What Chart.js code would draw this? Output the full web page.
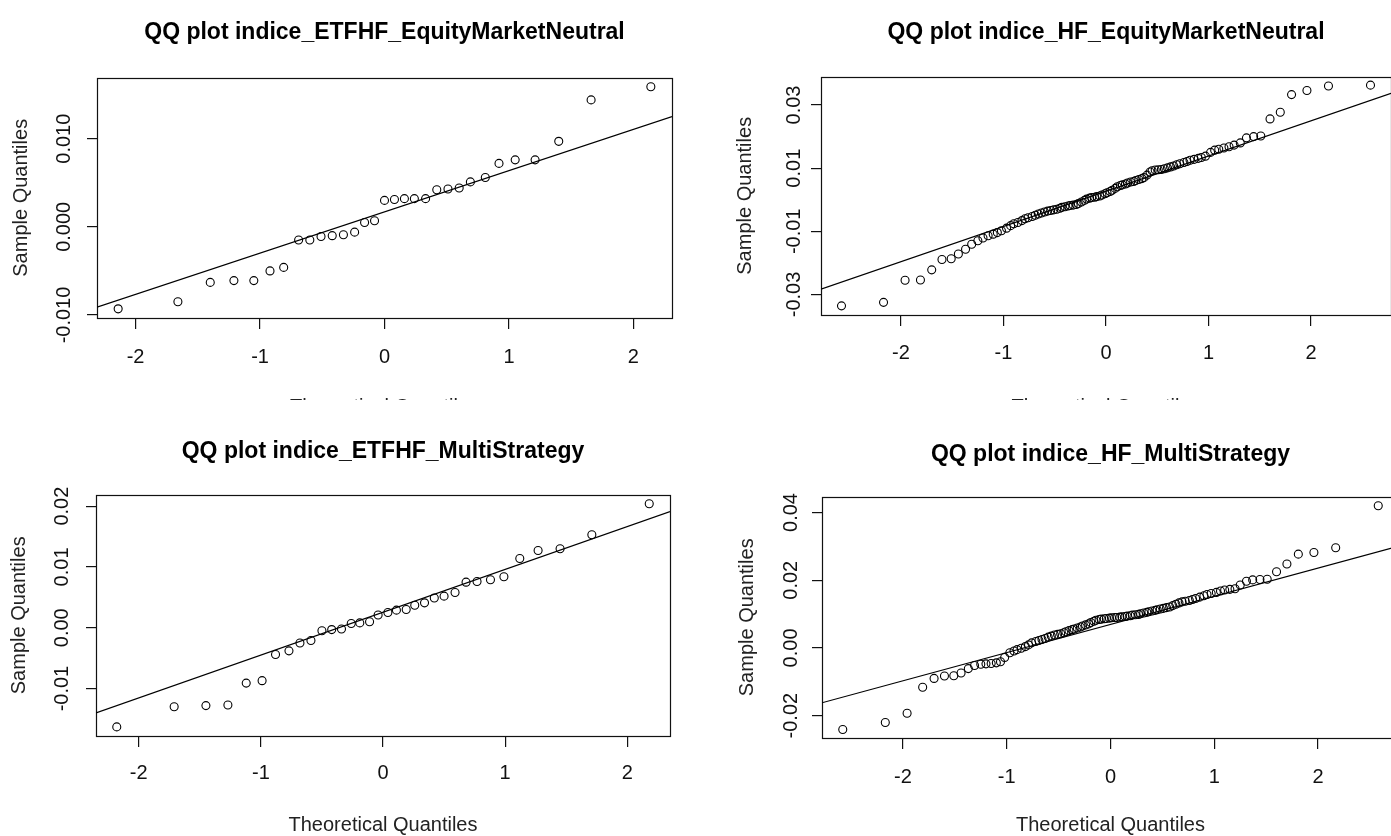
<!DOCTYPE html>
<html>
<head>
<meta charset="utf-8">
<title>QQ plots</title>
<script src="https://cdn.jsdelivr.net/npm/chart.js@4.4.1/dist/chart.umd.min.js"></script>
<style>
  html, body { margin: 0; padding: 0; background: #fff; }
  #page { position: relative; width: 1391px; height: 836px; overflow: hidden; background: #fff; }
  .cell { position: absolute; overflow: hidden; }
  canvas { display: block; }
</style>
</head>
<body>
<div id="page">
  <div class="cell" style="left:0;top:0;width:769px;height:400px"><canvas id="etfEmn" width="769" height="440"></canvas></div>
  <div class="cell" style="left:700px;top:0;width:691px;height:400px"><canvas id="hfEmn" width="812" height="440"></canvas></div>
  <div class="cell" style="left:0;top:400px;width:766px;height:436px"><canvas id="etfMulti" width="766" height="460"></canvas></div>
  <div class="cell" style="left:700px;top:400px;width:691px;height:436px"><canvas id="hfMulti" width="821" height="460"></canvas></div>
</div>
<script>
// ETFHF equity market neutral (31 obs)
const etfEmnTheo = [-2.14, -1.66, -1.40, -1.21, -1.05, -0.92, -0.81, -0.69, -0.60, -0.51, -0.42,
  -0.33, -0.24, -0.16, -0.08, 0.00, 0.08, 0.16, 0.24, 0.33, 0.42, 0.51, 0.60, 0.69, 0.81,
  0.92, 1.05, 1.21, 1.40, 1.66, 2.14];
const etfEmnSample = [-0.0093, -0.0085, -0.0063, -0.0061, -0.0061, -0.0050, -0.0046, -0.0015,
  -0.0015, -0.0011, -0.0010, -0.0009, -0.0006, 0.0005, 0.0007, 0.0030, 0.0031, 0.0032, 0.0032,
  0.0032, 0.0042, 0.0043, 0.0044, 0.0051, 0.0056, 0.0072, 0.0076, 0.0076, 0.0097, 0.0144, 0.0159];
const etfEmnLine = [[-2.31, -0.0091], [2.31, 0.0125]];
const etfEmnYLabels = ['-0.010', '0.000', '0.010'];

// ETFHF multi strategy (34 obs)
const etfMultiTheo = [-2.18, -1.71, -1.45, -1.27, -1.12, -0.99, -0.88, -0.77, -0.68, -0.59, -0.50,
  -0.42, -0.34, -0.26, -0.19, -0.11, -0.04, 0.04, 0.11, 0.19, 0.26, 0.34, 0.42, 0.50, 0.59,
  0.68, 0.77, 0.88, 0.99, 1.12, 1.27, 1.45, 1.71, 2.18];
const etfMultiSample = [-0.0163, -0.0130, -0.0128, -0.0127, -0.0091, -0.0087, -0.0044, -0.0038,
  -0.0025, -0.0021, -0.0005, -0.0003, -0.0002, 0.0007, 0.0008, 0.0010, 0.0021, 0.0025, 0.0029,
  0.0030, 0.0037, 0.0041, 0.0049, 0.0052, 0.0058, 0.0075, 0.0076, 0.0079, 0.0084, 0.0114,
  0.0127, 0.0130, 0.0153, 0.0204];
const etfMultiLine = [[-2.35, -0.0140], [2.35, 0.0191]];
const etfMultiYLabels = ['-0.01', '0.00', '0.01', '0.02'];

// HF indices share the same 100 theoretical quantiles
const hfTheo = [-2.58, -2.17, -1.96, -1.81, -1.70, -1.60, -1.51, -1.44, -1.37, -1.31,
  -1.25, -1.20, -1.15, -1.10, -1.06, -1.02, -0.97, -0.93, -0.90, -0.86,
  -0.82, -0.79, -0.76, -0.72, -0.69, -0.66, -0.63, -0.60, -0.57, -0.54,
  -0.51, -0.48, -0.45, -0.43, -0.40, -0.37, -0.35, -0.32, -0.29, -0.27,
  -0.24, -0.21, -0.19, -0.16, -0.14, -0.11, -0.09, -0.06, -0.04, -0.01,
  0.01, 0.04, 0.06, 0.09, 0.11, 0.14, 0.16, 0.19, 0.21, 0.24,
  0.27, 0.29, 0.32, 0.35, 0.37, 0.40, 0.43, 0.45, 0.48, 0.51,
  0.54, 0.57, 0.60, 0.63, 0.66, 0.69, 0.72, 0.76, 0.79, 0.82,
  0.86, 0.90, 0.93, 0.97, 1.02, 1.06, 1.10, 1.15, 1.20, 1.25,
  1.31, 1.37, 1.44, 1.51, 1.60, 1.70, 1.81, 1.96, 2.17, 2.58];

const hfEmnSample = [-0.0336, -0.0325, -0.0255, -0.0254, -0.0222, -0.0189, -0.0187, -0.0172, -0.0157, -0.0141,
  -0.0130, -0.0121, -0.0114, -0.0109, -0.0104, -0.0098, -0.0090, -0.0082, -0.0076, -0.0072,
  -0.0066, -0.0060, -0.0057, -0.0053, -0.0049, -0.0045, -0.0042, -0.0039, -0.0036, -0.0034,
  -0.0032, -0.0030, -0.0027, -0.0024, -0.0022, -0.0020, -0.0018, -0.0017, -0.0015, -0.0012,
  -0.0007, -0.0002, 0.0002, 0.0005, 0.0007, 0.0008, 0.0010, 0.0012, 0.0015, 0.0019,
  0.0022, 0.0026, 0.0030, 0.0036, 0.0041, 0.0045, 0.0047, 0.0050, 0.0053, 0.0056,
  0.0058, 0.0061, 0.0064, 0.0067, 0.0070, 0.0078, 0.0088, 0.0092, 0.0094, 0.0095,
  0.0096, 0.0098, 0.0101, 0.0104, 0.0107, 0.0111, 0.0114, 0.0118, 0.0121, 0.0125,
  0.0128, 0.0131, 0.0134, 0.0138, 0.0150, 0.0157, 0.0160, 0.0164, 0.0168, 0.0173,
  0.0180, 0.0196, 0.0200, 0.0202, 0.0256, 0.0277, 0.0333, 0.0346, 0.0360, 0.0363];
const hfEmnLine = [[-2.78, -0.0283], [2.78, 0.0337]];
const hfEmnYLabels = ['-0.03', '-0.01', '0.01', '0.03'];

const hfMultiSample = [-0.0241, -0.0220, -0.0193, -0.0116, -0.0090, -0.0083, -0.0082, -0.0074, -0.0061, -0.0052,
  -0.0048, -0.0047, -0.0046, -0.0044, -0.0041, -0.0028, -0.0014, -0.0009, -0.0005, -0.0001,
  0.0004, 0.0009, 0.0015, 0.0019, 0.0022, 0.0025, 0.0028, 0.0032, 0.0035, 0.0038,
  0.0040, 0.0042, 0.0045, 0.0048, 0.0051, 0.0054, 0.0056, 0.0059, 0.0062, 0.0065,
  0.0068, 0.0071, 0.0075, 0.0079, 0.0082, 0.0084, 0.0085, 0.0086, 0.0087, 0.0088,
  0.0089, 0.0090, 0.0090, 0.0091, 0.0092, 0.0093, 0.0094, 0.0095, 0.0097, 0.0098,
  0.0099, 0.0101, 0.0103, 0.0105, 0.0107, 0.0109, 0.0111, 0.0113, 0.0115, 0.0117,
  0.0119, 0.0121, 0.0125, 0.0129, 0.0133, 0.0136, 0.0138, 0.0140, 0.0143, 0.0146,
  0.0150, 0.0154, 0.0158, 0.0161, 0.0164, 0.0168, 0.0171, 0.0173, 0.0175, 0.0186,
  0.0197, 0.0201, 0.0202, 0.0203, 0.0225, 0.0248, 0.0277, 0.0282, 0.0296, 0.0420];
const hfMultiLine = [[-2.78, -0.0162], [2.78, 0.0301]];
const hfMultiYLabels = ['-0.02', '0.00', '0.02', '0.04'];

const xLabels = ['-2', '-1', '0', '1', '2'];

const FONT = '"Liberation Sans", Arial, sans-serif';
const TICK_SIZE = 20;
const INK = '#111';

// box around the plotting region, like R's box()
const boxPlugin = {
  id: 'box',
  beforeDatasetsDraw(chart) {
    const {ctx, chartArea: a} = chart;
    ctx.save();
    ctx.strokeStyle = INK;
    ctx.lineWidth = 1.2;
    ctx.strokeRect(Math.round(a.left) + 0.5, Math.round(a.top) + 0.5,
      Math.round(a.right - a.left), Math.round(a.bottom - a.top));
    ctx.restore();
  }
};

function widest(labels) {
  const ctx = document.createElement('canvas').getContext('2d');
  ctx.font = TICK_SIZE + 'px ' + FONT;
  return Math.max(...labels.map(l => ctx.measureText(l).width));
}

function qqPlot(p) {
  // rotated y labels are centred at labelGap px left of the axis
  const yPad = p.labelGap - 10 - widest(p.yLabels) / 2;

  return new Chart(document.getElementById(p.id), {
    type: 'scatter',
    data: {
      datasets: [
        {
          data: p.theo.map((x, i) => ({x: x, y: p.sample[i]})),
          xAxisID: 'x', yAxisID: 'y',
          pointStyle: 'circle', pointRadius: 4, borderWidth: 1.1,
          borderColor: '#000', backgroundColor: 'rgba(0,0,0,0)'
        },
        {
          data: p.line.map(d => ({x: d[0], y: d[1]})),
          xAxisID: 'x', yAxisID: 'y',
          showLine: true, pointRadius: 0, borderWidth: 1.2, borderColor: '#000'
        }
      ]
    },
    options: {
      responsive: false,
      animation: false,
      events: [],
      layout: { padding: 0 },
      plugins: {
        legend: { display: false },
        tooltip: { enabled: false },
        title: {
          display: true, text: p.title, color: '#000',
          font: { family: FONT, size: 23, weight: 'bold' },
          padding: { top: p.titleTop, bottom: p.titleBottom }
        }
      },
      scales: {
        x: {
          type: 'linear', position: 'bottom', min: -p.xMax, max: p.xMax,
          afterFit: s => { s.height = p.xAxisH; },
          border: { display: false },
          grid: { drawOnChartArea: false, drawTicks: true, tickLength: 11, color: INK, lineWidth: 1.2 },
          ticks: {
            stepSize: 1, includeBounds: false, padding: p.xTickPad, maxRotation: 0,
            color: INK, font: { family: FONT, size: TICK_SIZE },
            callback: v => xLabels.includes(String(v)) ? String(v) : ''
          },
          title: {
            display: true, text: 'Theoretical Quantiles', color: '#222',
            font: { family: FONT, size: TICK_SIZE }, padding: { top: 0, bottom: p.xTitleBottom }
          }
        },
        y: {
          type: 'linear', position: 'left', min: p.yMin, max: p.yMax,
          afterFit: s => { s.width = p.yAxisW; },
          border: { display: false },
          grid: { drawOnChartArea: false, drawTicks: true, tickLength: 10, color: INK, lineWidth: 1.2 },
          ticks: {
            stepSize: p.yStep, includeBounds: false, minRotation: 90, maxRotation: 90,
            crossAlign: 'center', padding: yPad,
            color: INK, font: { family: FONT, size: TICK_SIZE },
            callback: v => {
              const s = (Math.abs(v) < 1e-12 ? 0 : v).toFixed(p.yDecimals);
              return p.yLabels.includes(s) ? s : '';
            }
          },
          title: {
            display: true, text: 'Sample Quantiles', color: '#222',
            font: { family: FONT, size: TICK_SIZE }, padding: { top: p.yTitleOff - 12, bottom: 0 }
          }
        },
        // empty right-hand axis keeps the title centred over the box
        pad: {
          type: 'linear', position: 'right', display: true,
          afterFit: s => { s.width = p.yAxisW; },
          grid: { display: false }, border: { display: false }, ticks: { display: false }
        }
      }
    },
    plugins: [boxPlugin]
  });
}

qqPlot({
  id: 'etfEmn', title: 'QQ plot indice_ETFHF_EquityMarketNeutral',
  theo: etfEmnTheo, sample: etfEmnSample, line: etfEmnLine,
  yLabels: etfEmnYLabels, yDecimals: 3, yStep: 0.005,
  xMax: 2.31, yMin: -0.01034, yMax: 0.01693,
  yAxisW: 97, xAxisH: 122, titleTop: 19, titleBottom: 31,
  xTickPad: 16, labelGap: 32.5, yTitleOff: 21.5, xTitleBottom: 21
});

qqPlot({
  id: 'hfEmn', title: 'QQ plot indice_HF_EquityMarketNeutral',
  theo: hfTheo, sample: hfEmnSample, line: hfEmnLine,
  yLabels: hfEmnYLabels, yDecimals: 2, yStep: 0.01,
  xMax: 2.78, yMin: -0.0365, yMax: 0.0390,
  yAxisW: 121, xAxisH: 125, titleTop: 19, titleBottom: 30,
  xTickPad: 15, labelGap: 26.2, yTitleOff: 45, xTitleBottom: 21
});

qqPlot({
  id: 'etfMulti', title: 'QQ plot indice_ETFHF_MultiStrategy',
  theo: etfMultiTheo, sample: etfMultiSample, line: etfMultiLine,
  yLabels: etfMultiYLabels, yDecimals: 2, yStep: 0.01,
  xMax: 2.35, yMin: -0.0178, yMax: 0.0219,
  yAxisW: 96, xAxisH: 124, titleTop: 38, titleBottom: 29,
  xTickPad: 14, labelGap: 33.5, yTitleOff: 19.5, xTitleBottom: 23
});

qqPlot({
  id: 'hfMulti', title: 'QQ plot indice_HF_MultiStrategy',
  theo: hfTheo, sample: hfMultiSample, line: hfMultiLine,
  yLabels: hfMultiYLabels, yDecimals: 2, yStep: 0.01,
  xMax: 2.78, yMin: -0.0266, yMax: 0.0447,
  yAxisW: 122, xAxisH: 122, titleTop: 41, titleBottom: 28,
  xTickPad: 16, labelGap: 30.6, yTitleOff: 47, xTitleBottom: 23
});
</script>
</body>
</html>
